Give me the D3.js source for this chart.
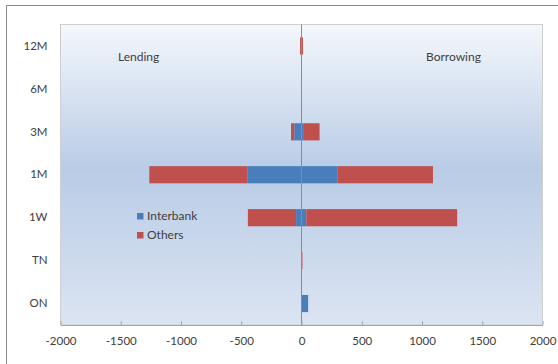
<!DOCTYPE html>
<html>
<head>
<meta charset="utf-8">
<script src="https://cdn.jsdelivr.net/npm/d3@7"></script>
<style>
  html, body { margin: 0; padding: 0; background: #ffffff; }
  svg { display: block; }
  text { font-family: Lato, "Open Sans", sans-serif; fill: #404040; }
</style>
</head>
<body>
<svg id="chart" width="558" height="364"></svg>
<script>
// Maturity buckets, top to bottom
const categories = ["12M", "6M", "3M", "1M", "1W", "TN", "ON"];

// Lending (negative) and borrowing (positive), split by counterparty
const lendingInterbank   = [0, 0, -60, -450, -45, 0, 0];
const lendingOthers      = [-12, 0, -27, -813, -400, 0, 0];
const borrowingInterbank = [0, 0, 20, 300, 40, 0, 55];
const borrowingOthers    = [12, 0, 130, 791, 1252, 8, 0];

const xTicks = [-2000, -1500, -1000, -500, 0, 500, 1000, 1500, 2000];

const seriesNames = ["Interbank", "Others"];
const seriesColors = { Interbank: "#4a7ebb", Others: "#c0504d" };

const rows = categories.map((c, i) => ({
  cat: c,
  ibLend: lendingInterbank[i],
  ibBorrow: borrowingInterbank[i],
  othLend: lendingOthers[i],
  othBorrow: borrowingOthers[i]
}));
const keys = ["ibLend", "ibBorrow", "othLend", "othBorrow"];
const keySeries = { ibLend: "Interbank", ibBorrow: "Interbank", othLend: "Others", othBorrow: "Others" };

const stacked = d3.stack().keys(keys).offset(d3.stackOffsetDiverging)(rows);

const svg = d3.select("#chart");
const plot = { left: 60.5, right: 542.5, top: 24.5, bottom: 325 };

const x = d3.scaleLinear().domain([-2000, 2000]).range([plot.left, plot.right]);
const y = d3.scaleBand().domain(categories).range([plot.top, plot.bottom]).paddingInner(0.6).paddingOuter(0.3);

// Outer chart frame
svg.append("rect")
  .attr("x", 6.5).attr("y", 5.5).attr("width", 600).attr("height", 400)
  .attr("fill", "#ffffff").attr("stroke", "#8c8c8c").attr("stroke-width", 1);

// Plot area gradient
const defs = svg.append("defs");
const grad = defs.append("linearGradient").attr("id", "plotBg")
  .attr("x1", 0).attr("y1", 0).attr("x2", 0).attr("y2", 1);
grad.append("stop").attr("offset", "0%").attr("stop-color", "#f4f7fc");
grad.append("stop").attr("offset", "48%").attr("stop-color", "#b9cce6");
grad.append("stop").attr("offset", "100%").attr("stop-color", "#dbe4f2");

svg.append("rect")
  .attr("x", plot.left).attr("y", plot.top)
  .attr("width", plot.right - plot.left).attr("height", plot.bottom - plot.top)
  .attr("fill", "url(#plotBg)").attr("stroke", "#cfcfcf").attr("stroke-width", 1);

// Bars
svg.append("g").selectAll("g")
  .data(stacked)
  .join("g")
    .attr("fill", d => seriesColors[keySeries[d.key]])
  .selectAll("rect")
  .data(d => d)
  .join("rect")
    .attr("x", d => x(Math.min(d[0], d[1])))
    .attr("width", d => Math.abs(x(d[1]) - x(d[0])))
    .attr("y", d => y(d.data.cat))
    .attr("height", y.bandwidth());

// Zero line
svg.append("line")
  .attr("x1", x(0)).attr("x2", x(0))
  .attr("y1", plot.top).attr("y2", plot.bottom)
  .attr("stroke", "#8c8c8c").attr("stroke-width", 1);

// Bottom value axis (plain hyphen for negatives)
const xAxis = d3.axisBottom(x).tickValues(xTicks).tickFormat(d => String(d))
  .tickSizeInner(-4).tickSizeOuter(0).tickPadding(12);
const gx = svg.append("g").attr("transform", `translate(0,${plot.bottom})`).call(xAxis);
gx.select(".domain").attr("stroke", "#a6a6a6");
gx.selectAll(".tick line").attr("stroke", "#a6a6a6");
gx.selectAll("text").attr("font-size", 11.5).attr("fill", "#404040")
  .attr("font-family", "Lato, 'Open Sans', sans-serif");

// Category labels
const yAxis = d3.axisLeft(y).tickSize(0).tickPadding(13);
const gy = svg.append("g").attr("transform", `translate(${plot.left},0)`).call(yAxis);
gy.select(".domain").remove();
gy.selectAll("text").attr("font-size", 11.5).attr("fill", "#404040")
  .attr("font-family", "Lato, 'Open Sans', sans-serif");

// Side annotations
svg.append("text").attr("x", 118).attr("y", 61).attr("font-size", 12).text("Lending");
svg.append("text").attr("x", 426).attr("y", 61).attr("font-size", 12).text("Borrowing");

// Legend
const legend = svg.append("g").attr("transform", "translate(137,213)");
seriesNames.forEach((name, i) => {
  const g = legend.append("g").attr("transform", `translate(0,${i * 19})`);
  g.append("rect").attr("width", 6.5).attr("height", 6.5).attr("fill", seriesColors[name]);
  g.append("text").attr("x", 10).attr("y", 6.8).attr("font-size", 12).text(name);
});
</script>
</body>
</html>
